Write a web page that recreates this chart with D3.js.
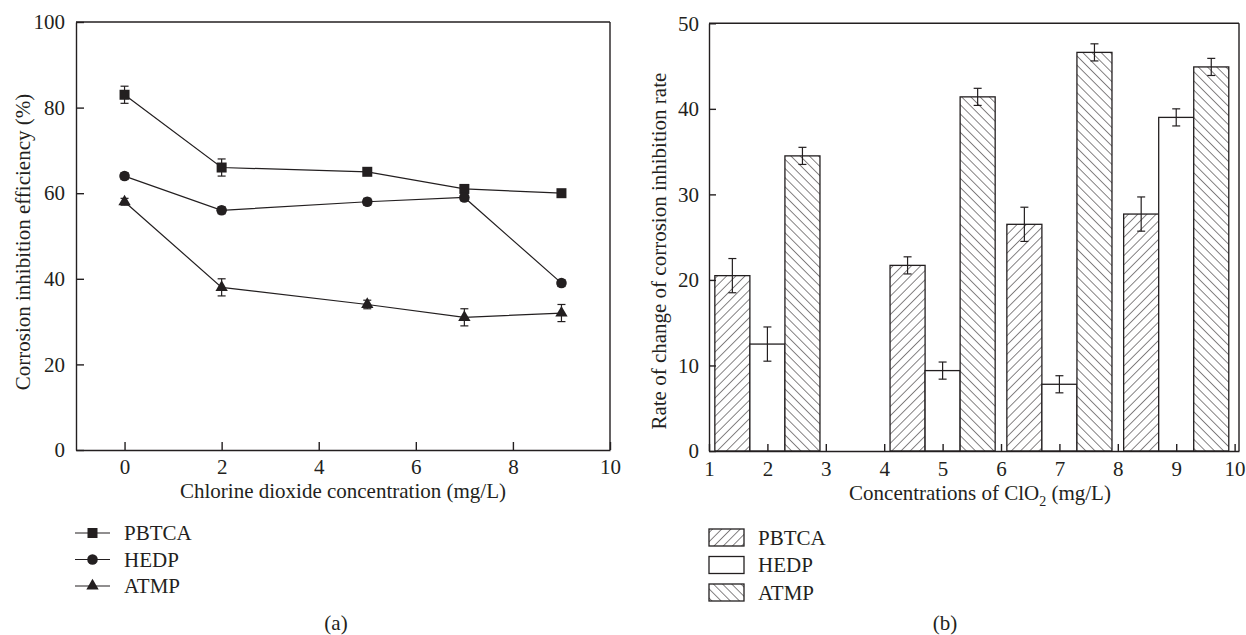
<!DOCTYPE html>
<html>
<head>
<meta charset="utf-8">
<script src="https://cdn.jsdelivr.net/npm/d3@7"></script>
<style>
  body { margin: 0; background: #fff; }
  svg { display: block; }
  text { font-family: "Liberation Serif", "DejaVu Serif", serif; fill: #231f20; }
  .axis path, .axis line { stroke: #231f20; stroke-width: 1.4; }
  .axis text { font-size: 21px; }
</style>
</head>
<body>
<div id="chart"></div>
<script>
// (a) corrosion inhibition efficiency vs ClO2 concentration
var concA = [0, 2, 5, 7, 9];
var pbtcaEff = [83, 66, 65, 61, 60];
var pbtcaEffErr = [2, 2, 0.6, 1, 0.6];
var hedpEff = [64, 56, 58, 59, 39];
var hedpEffErr = [0.8, 0.8, 0.8, 0.8, 0.8];
var atmpEff = [58, 38, 34, 31, 32];
var atmpEffErr = [0.8, 2, 1, 2, 2];

// (b) rate of change of corrosion inhibition rate
var concB = [2, 5, 7, 9];
var pbtcaRate = [20.5, 21.7, 26.5, 27.7];
var pbtcaRateErr = [2, 1, 2, 2];
var hedpRate = [12.5, 9.4, 7.8, 39.0];
var hedpRateErr = [2, 1, 1, 1];
var atmpRate = [34.5, 41.4, 46.6, 44.9];
var atmpRateErr = [1, 1, 1, 1];

var seriesNames = ['PBTCA', 'HEDP', 'ATMP'];
var ticksA_x = [0, 2, 4, 6, 8, 10];
var ticksA_y = [0, 20, 40, 60, 80, 100];
var ticksB_x = [1, 2, 3, 4, 5, 6, 7, 8, 9, 10];
var ticksB_y = [0, 10, 20, 30, 40, 50];

var ink = '#231f20';
var fs = '21px';

var svg = d3.select('#chart').append('svg')
  .attr('width', 1246)
  .attr('height', 635);

var defs = svg.append('defs');
function hatch(id, angle) {
  var p = defs.append('pattern')
    .attr('id', id)
    .attr('patternUnits', 'userSpaceOnUse')
    .attr('width', 6.5)
    .attr('height', 6.5)
    .attr('patternTransform', 'rotate(' + angle + ')');
  p.append('rect').attr('width', 6.5).attr('height', 6.5).attr('fill', '#fff');
  p.append('line')
    .attr('x1', 0).attr('y1', 0).attr('x2', 0).attr('y2', 6.5)
    .attr('stroke', ink).attr('stroke-width', 1.1);
}
hatch('hatch-fwd', 45);
hatch('hatch-back', -45);

/* ---------- chart (a) ---------- */
var xA = d3.scaleLinear().domain([-1, 10]).range([76, 610]);
var yA = d3.scaleLinear().domain([0, 100]).range([450, 22]);

var gA = svg.append('g');

// frame top and right
gA.append('line').attr('x1', xA(-1)).attr('x2', xA(10)).attr('y1', yA(100)).attr('y2', yA(100))
  .attr('stroke', ink).attr('stroke-width', 1.4);
gA.append('line').attr('x1', xA(10)).attr('x2', xA(10)).attr('y1', yA(100)).attr('y2', yA(0))
  .attr('stroke', ink).attr('stroke-width', 1.4);

gA.append('g')
  .attr('class', 'axis')
  .attr('transform', 'translate(0,' + yA(0) + ')')
  .call(d3.axisBottom(xA).tickValues(ticksA_x).tickSizeInner(-8).tickSizeOuter(0).tickPadding(9));

gA.append('g')
  .attr('class', 'axis')
  .attr('transform', 'translate(' + xA(-1) + ',0)')
  .call(d3.axisLeft(yA).tickValues(ticksA_y).tickSizeInner(-8).tickSizeOuter(0).tickPadding(11));

var seriesA = [
  { name: 'PBTCA', vals: pbtcaEff, err: pbtcaEffErr, sym: d3.symbolSquare, size: 100 },
  { name: 'HEDP', vals: hedpEff, err: hedpEffErr, sym: d3.symbolCircle, size: 88 },
  { name: 'ATMP', vals: atmpEff, err: atmpEffErr, sym: d3.symbolTriangle, size: 66 }
];

var lineA = d3.line()
  .x(function(d) { return xA(d[0]); })
  .y(function(d) { return yA(d[1]); });

seriesA.forEach(function(s) {
  var pts = concA.map(function(c, i) { return [c, s.vals[i], s.err[i]]; });
  gA.append('path')
    .datum(pts)
    .attr('d', lineA)
    .attr('fill', 'none')
    .attr('stroke', ink)
    .attr('stroke-width', 1.2);

  pts.forEach(function(p) {
    var x = xA(p[0]);
    var y1 = yA(p[1] + p[2]), y2 = yA(p[1] - p[2]);
    gA.append('line').attr('x1', x).attr('x2', x).attr('y1', y1).attr('y2', y2)
      .attr('stroke', ink).attr('stroke-width', 1.2);
    [y1, y2].forEach(function(yy) {
      gA.append('line').attr('x1', x - 4).attr('x2', x + 4).attr('y1', yy).attr('y2', yy)
        .attr('stroke', ink).attr('stroke-width', 1.2);
    });
    gA.append('path')
      .attr('d', d3.symbol().type(s.sym).size(s.size)())
      .attr('transform', 'translate(' + x + ',' + yA(p[1]) + ')')
      .attr('fill', ink);
  });
});

gA.append('text')
  .attr('transform', 'translate(30,' + ((yA(0) + yA(100)) / 2 + 6) + ') rotate(-90)')
  .attr('text-anchor', 'middle')
  .style('font-size', fs)
  .text('Corrosion inhibition efficiency (%)');

gA.append('text')
  .attr('x', (xA(-1) + xA(10)) / 2)
  .attr('y', 498)
  .attr('text-anchor', 'middle')
  .style('font-size', fs)
  .text('Chlorine dioxide concentration (mg/L)');

var legA = svg.append('g');
seriesA.forEach(function(s, i) {
  var cy = 533 + i * 26.5;
  legA.append('line').attr('x1', 75).attr('x2', 110).attr('y1', cy).attr('y2', cy)
    .attr('stroke', ink).attr('stroke-width', 1.2);
  legA.append('path')
    .attr('d', d3.symbol().type(s.sym).size(s.size)())
    .attr('transform', 'translate(92.5,' + cy + ')')
    .attr('fill', ink);
  legA.append('text')
    .attr('x', 124).attr('y', cy + 7)
    .style('font-size', fs)
    .text(s.name);
});

svg.append('text')
  .attr('x', 336).attr('y', 630)
  .attr('text-anchor', 'middle')
  .style('font-size', fs)
  .text('(a)');

/* ---------- chart (b) ---------- */
var xB = d3.scaleLinear().domain([1, 10.075]).range([709, 1239]);
var yB = d3.scaleLinear().domain([0, 50]).range([451, 23.3]);
var barW = 0.6;

var gB = svg.append('g');

var seriesB = [
  { name: 'PBTCA', vals: pbtcaRate, err: pbtcaRateErr, fill: 'url(#hatch-fwd)', off: -barW },
  { name: 'HEDP', vals: hedpRate, err: hedpRateErr, fill: '#fff', off: 0 },
  { name: 'ATMP', vals: atmpRate, err: atmpRateErr, fill: 'url(#hatch-back)', off: barW }
];

seriesB.forEach(function(s) {
  gB.selectAll(null)
    .data(concB.map(function(c, i) { return { c: c, v: s.vals[i] }; }))
    .enter().append('rect')
    .attr('x', function(d) { return xB(d.c + s.off - barW / 2); })
    .attr('width', function(d) { return xB(d.c + s.off + barW / 2) - xB(d.c + s.off - barW / 2); })
    .attr('y', function(d) { return yB(d.v); })
    .attr('height', function(d) { return yB(0) - yB(d.v); })
    .attr('fill', s.fill)
    .attr('stroke', ink)
    .attr('stroke-width', 1.3);
});

seriesB.forEach(function(s) {
  concB.forEach(function(c, i) {
    var x = xB(c + s.off);
    var y1 = yB(s.vals[i] + s.err[i]), y2 = yB(s.vals[i] - s.err[i]);
    gB.append('line').attr('x1', x).attr('x2', x).attr('y1', y1).attr('y2', y2)
      .attr('stroke', ink).attr('stroke-width', 1.2);
    [y1, y2].forEach(function(yy) {
      gB.append('line').attr('x1', x - 4).attr('x2', x + 4).attr('y1', yy).attr('y2', yy)
        .attr('stroke', ink).attr('stroke-width', 1.2);
    });
  });
});

gB.append('line').attr('x1', xB(1)).attr('x2', xB(10.075)).attr('y1', yB(50)).attr('y2', yB(50))
  .attr('stroke', ink).attr('stroke-width', 1.4);
gB.append('line').attr('x1', xB(10.075)).attr('x2', xB(10.075)).attr('y1', yB(50)).attr('y2', yB(0))
  .attr('stroke', ink).attr('stroke-width', 1.4);

gB.append('g')
  .attr('class', 'axis')
  .attr('transform', 'translate(0,' + yB(0) + ')')
  .call(d3.axisBottom(xB).tickValues(ticksB_x).tickSizeInner(-7).tickSizeOuter(0).tickPadding(10));

gB.append('g')
  .attr('class', 'axis')
  .attr('transform', 'translate(' + xB(1) + ',0)')
  .call(d3.axisLeft(yB).tickValues(ticksB_y).tickSizeInner(-7).tickSizeOuter(0).tickPadding(10));

gB.append('text')
  .attr('transform', 'translate(666,' + ((yB(0) + yB(50)) / 2 + 14) + ') rotate(-90)')
  .attr('text-anchor', 'middle')
  .style('font-size', fs)
  .text('Rate of change of corrosion inhibition rate');

var xlabB = gB.append('text')
  .attr('x', 980)
  .attr('y', 500)
  .attr('text-anchor', 'middle')
  .style('font-size', fs);
xlabB.append('tspan').text('Concentrations of ClO');
xlabB.append('tspan').attr('dy', 6).style('font-size', '14px').text('2');
xlabB.append('tspan').attr('dy', -6).text(' (mg/L)');

var legB = svg.append('g');
seriesB.forEach(function(s, i) {
  var cy = 537.5 + i * 27.5;
  legB.append('rect')
    .attr('x', 709).attr('y', cy - 8.5)
    .attr('width', 35).attr('height', 17)
    .attr('fill', s.fill)
    .attr('stroke', ink).attr('stroke-width', 1.3);
  legB.append('text')
    .attr('x', 758).attr('y', cy + 7)
    .style('font-size', fs)
    .text(s.name);
});

svg.append('text')
  .attr('x', 945).attr('y', 630)
  .attr('text-anchor', 'middle')
  .style('font-size', fs)
  .text('(b)');
</script>
</body>
</html>
